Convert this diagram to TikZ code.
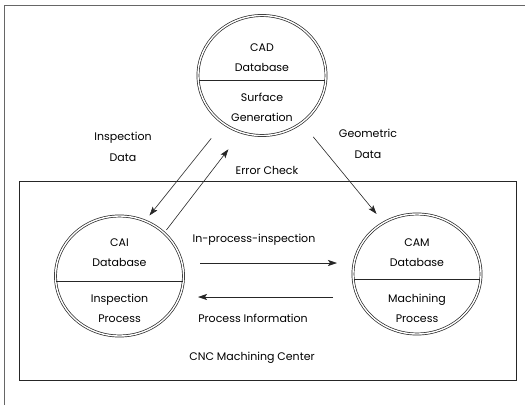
\documentclass[tikz,border=0pt]{standalone}
\usepackage{fontspec}
\setmainfont{Poppins}
\usepackage{xcolor}
\usetikzlibrary{shapes.geometric,arrows.meta}
\colorlet{line ink}{black!85}
\colorlet{frame ink}{black!60}
\tikzset{store/.style={ellipse, draw=line ink, double, double distance=1.4pt,
        line width=0.7pt, minimum width=128, minimum height=120, inner sep=0pt},
    divider/.style={draw=line ink, line width=0.8pt, shorten <=1.3pt, shorten >=1.3pt},
    flow/.style={draw=line ink, line width=0.6pt, -{Stealth[length=9pt,width=6pt,inset=2pt]}},
    tag/.style={font=\fontsize{11}{20}\selectfont, align=center, inner sep=0pt}}

\begin{document}
\begin{tikzpicture}[x=1pt,y=-1pt]
    \useasboundingbox (0,0) rectangle (525,405);
    \draw[frame ink, line width=0.8pt] (4,405) -- (4,5) -- (525,5);
    \draw[line ink, line width=0.8pt] (19,181) rectangle (516,380);
    % the three databases
    \node[store] (cad) at (262,75.5) {};
    \node[store] (cai) at (119.5,276) {};
    \node[store] (cam) at (417,274) {};
    \foreach \s in {cad,cai,cam}
        \draw[divider] ([yshift=-5pt]\s.west) -- ([yshift=-5pt]\s.east);
    \node[tag] (cad top) at (262,58)  {CAD\\Database};
    \node[tag] (cad bot) at (262,107) {Surface\\Generation};
    \node[tag] (cai top) at (119.5,253) {CAI\\Database};
    \node[tag] (cai bot) at (119.5,308) {Inspection\\Process};
    \node[tag] (cam top) at (417,253) {CAM\\Database};
    \node[tag] (cam bot) at (417,308) {Machining\\Process};
    % labels
    \node[tag, font=\fontsize{11}{21}\selectfont] (insp data) at (123,146.5) {Inspection\\Data};
    \node[tag, font=\fontsize{11}{21}\selectfont] (geom data) at (368,144) {Geometric\\Data};
    \node[tag] (err check) at (267,170) {Error Check};
    \node[tag] (ipi) at (254,240) {In-process-inspection};
    \node[tag] (pinf) at (253,318) {Process Information};
    \node[tag] (cnc) at (252,358) {CNC Machining Center};
    % flows
    \draw[flow, shorten <=19pt, shorten >=6.7pt] (cad.231) -- (cai.65);
    \draw[flow, shorten <=3.5pt, shorten >=21pt] (cai.44) -- (cad.250);
    \draw[flow, shorten <=18pt, shorten >=11pt] (cad.310) -- (cam.123);
    \coordinate (ipi from) at (200,263);
    \coordinate (ipi to) at (337,263);
    \coordinate (pinf from) at (333,297);
    \coordinate (pinf to) at (198,297);
    \draw[flow] (ipi from) -- (ipi to);
    \draw[flow] (pinf from) -- (pinf to);
\end{tikzpicture}
\end{document}
